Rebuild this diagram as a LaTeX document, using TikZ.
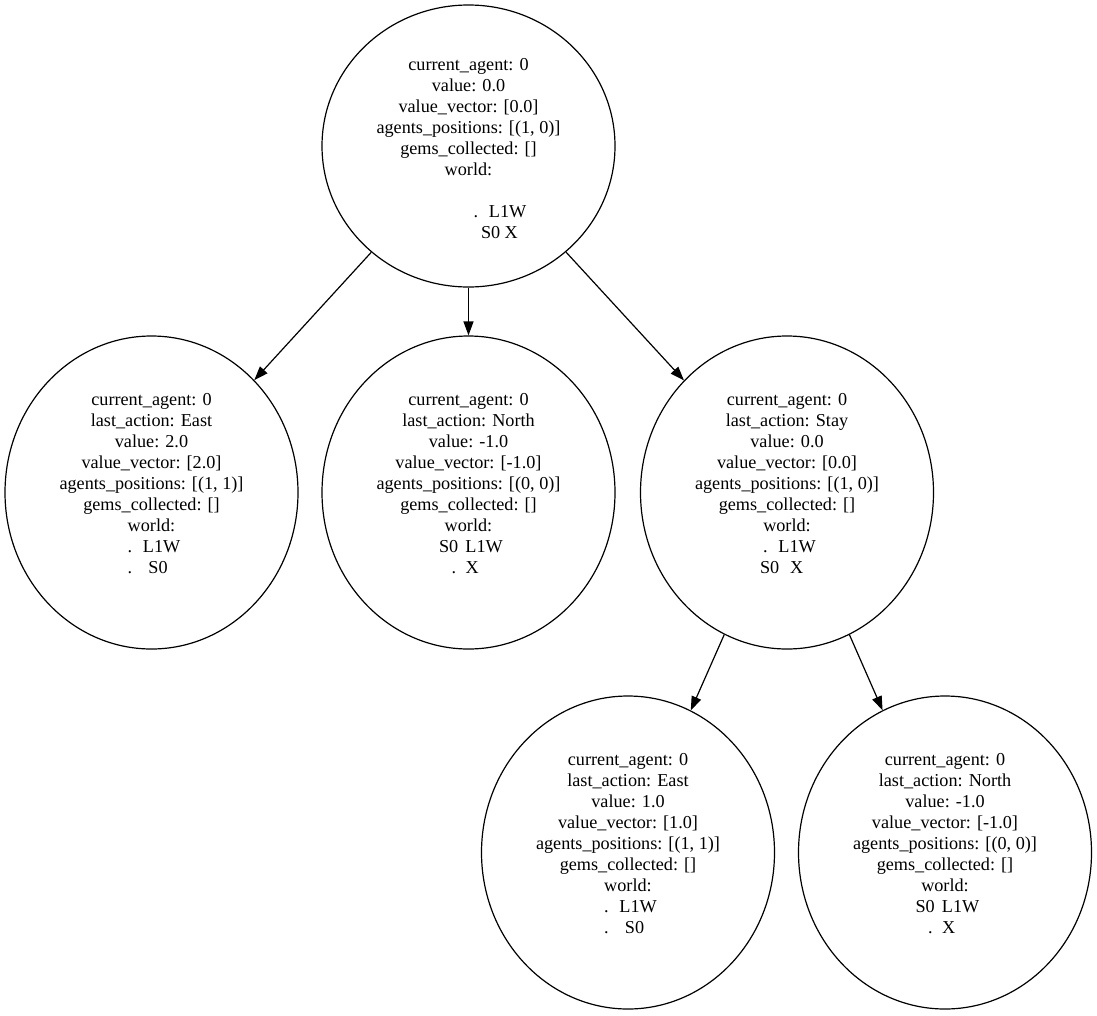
\documentclass[tikz,border=0pt]{standalone}
\usepackage{fontspec}
\setmainfont{Liberation Serif}
\usetikzlibrary{shapes.geometric,arrows.meta}
% one cell of the world grid, placed at a horizontal offset from the node centre
\newcommand\cell[2]{\makebox[0pt][l]{\hspace*{#1}#2}}
% invisible depth below the last text line
\newcommand\tail{\rule[-18pt]{0pt}{0pt}}
\begin{document}
\begin{tikzpicture}[x=1pt,y=-1pt,
  state/.style={ellipse, draw, line width=1.2pt, minimum width=293pt,
    minimum height=313pt, inner sep=0pt, align=center,
    font=\fontsize{18.2}{21}\selectfont},
  link/.style={-{Triangle[length=14pt,width=10pt]}, line width=1.2pt}]
\useasboundingbox (0,0) rectangle (1097,1015);

\node[state, minimum height=282pt] (root) at (468.5,146)
  {\rule{0pt}{16.3pt}current\_agent: 0\\value: 0.0\\value\_vector: [0.0]\\agents\_positions: [(1, 0)]\\gems\_collected: []\\world:\\ \mbox{}\\
   \cell{5pt}{.}\cell{20.5pt}{L1W}\\ \cell{12.5pt}{S0}\cell{36pt}{X}};

\node[state] (east) at (151.5,492.5)
  {current\_agent: 0\\last\_action: East\\value: 2.0\\value\_vector: [2.0]\\agents\_positions: [(1, 1)]\\gems\_collected: []\\world:\\
   \cell{-24pt}{.}\cell{-8.5pt}{L1W}\\ \cell{-24pt}{.}\cell{-3pt}{S0}\tail};

\node[state] (north) at (468.5,492.5)
  {current\_agent: 0\\last\_action: North\\value: -1.0\\value\_vector: [-1.0]\\agents\_positions: [(0, 0)]\\gems\_collected: []\\world:\\
   \cell{-29.5pt}{S0}\cell{-3pt}{L1W}\\ \cell{-17pt}{.}\cell{-3pt}{X}\tail};

\node[state] (stay) at (787,492.5)
  {current\_agent: 0\\last\_action: Stay\\value: 0.0\\value\_vector: [0.0]\\agents\_positions: [(1, 0)]\\gems\_collected: []\\world:\\
   \cell{-24pt}{.}\cell{-8.5pt}{L1W}\\ \cell{-27pt}{S0}\cell{3pt}{X}\tail};

\node[state] (steast) at (628,852.5)
  {current\_agent: 0\\last\_action: East\\value: 1.0\\value\_vector: [1.0]\\agents\_positions: [(1, 1)]\\gems\_collected: []\\world:\\
   \cell{-24pt}{.}\cell{-8.5pt}{L1W}\\ \cell{-24pt}{.}\cell{-3pt}{S0}\tail};

\node[state] (stnorth) at (945,852.5)
  {current\_agent: 0\\last\_action: North\\value: -1.0\\value\_vector: [-1.0]\\agents\_positions: [(0, 0)]\\gems\_collected: []\\world:\\
   \cell{-29.5pt}{S0}\cell{-3pt}{L1W}\\ \cell{-17pt}{.}\cell{-3pt}{X}\tail};

\draw[link] (root) -- (east);
\draw[link] (root) -- (north);
\draw[link] (root) -- (stay);
\draw[link] (stay) -- (steast);
\draw[link] (stay) -- (stnorth);
\end{tikzpicture}
\end{document}
